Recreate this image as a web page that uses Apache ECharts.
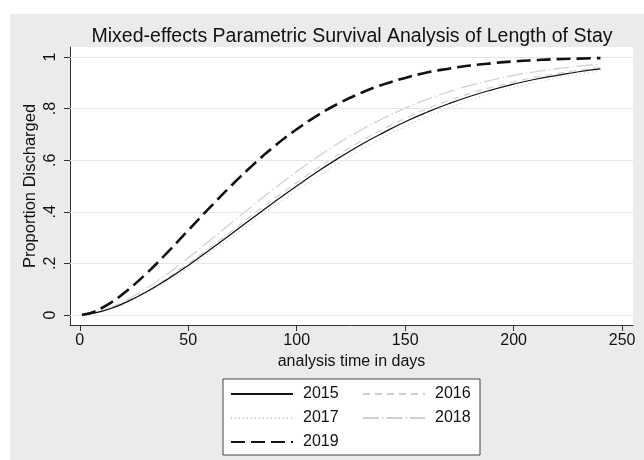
<!DOCTYPE html>
<html>
<head>
<meta charset="utf-8">
<script src="https://cdn.jsdelivr.net/npm/echarts@6/dist/echarts.min.js"></script>
<style>
html,body{margin:0;padding:0;background:#fff;}
#chart{width:644px;height:460px;}
</style>
</head>
<body>
<div id="chart"></div>
<script>
const days = [1, 5, 10, 15, 20, 30, 40, 50, 60, 70, 80, 90, 100, 110, 120, 130, 140, 150, 160, 170, 180, 190, 200, 210, 220, 230, 240];
const y2015 = [0.000, 0.004, 0.014, 0.027, 0.044, 0.086, 0.136, 0.192, 0.253, 0.315, 0.378, 0.440, 0.500, 0.558, 0.612, 0.662, 0.707, 0.749, 0.786, 0.819, 0.848, 0.873, 0.895, 0.914, 0.929, 0.943, 0.954];
const y2016 = [0.000, 0.004, 0.014, 0.028, 0.046, 0.089, 0.141, 0.199, 0.261, 0.325, 0.390, 0.453, 0.514, 0.572, 0.626, 0.676, 0.721, 0.762, 0.799, 0.831, 0.859, 0.883, 0.904, 0.922, 0.936, 0.949, 0.959];
const y2017 = [0.000, 0.004, 0.013, 0.026, 0.042, 0.082, 0.130, 0.184, 0.242, 0.302, 0.363, 0.424, 0.483, 0.539, 0.593, 0.643, 0.689, 0.731, 0.769, 0.803, 0.833, 0.860, 0.883, 0.902, 0.919, 0.934, 0.946];
const y2018 = [0.000, 0.005, 0.016, 0.032, 0.051, 0.100, 0.157, 0.221, 0.289, 0.358, 0.426, 0.493, 0.556, 0.615, 0.670, 0.719, 0.763, 0.802, 0.836, 0.865, 0.890, 0.911, 0.929, 0.943, 0.955, 0.965, 0.973];
const y2019 = [0.001, 0.008, 0.026, 0.051, 0.082, 0.155, 0.239, 0.328, 0.417, 0.503, 0.583, 0.656, 0.720, 0.776, 0.823, 0.862, 0.894, 0.919, 0.940, 0.955, 0.967, 0.976, 0.983, 0.988, 0.992, 0.994, 0.996];
const seriesNames = ['2015', '2016', '2017', '2018', '2019'];
const xTickValues = [0, 50, 100, 150, 200, 250];
const yTickValues = [0, 0.2, 0.4, 0.6, 0.8, 1];
const yTickLabels = ['0', '.2', '.4', '.6', '.8', '1'];

const FONT = '"Liberation Sans", Arial, Helvetica, sans-serif';
const pairs = ys => days.map((d, i) => [d, ys[i]]);
const styles = [
  {color: '#111', width: 1.2, type: 'solid'},
  {color: '#cfcfcf', width: 1.2, type: [7, 5]},
  {color: '#c8c8c8', width: 1.2, type: [1, 3]},
  {color: '#cfcfcf', width: 1.2, type: [16, 3, 1.5, 3]},
  {color: '#111', width: 2.6, type: [14, 6]}
];
const allData = [y2015, y2016, y2017, y2018, y2019];

const series = [{
  name: 'grid',
  type: 'line',
  data: [],
  z: 1,
  silent: true,
  markLine: {
    silent: true,
    symbol: 'none',
    label: {show: false},
    lineStyle: {color: '#e6e6e6', width: 1, type: 'solid'},
    data: yTickValues.map(v => ({yAxis: v}))
  }
}];
seriesNames.forEach((n, i) => {
  series.push({
    name: n,
    type: 'line',
    data: pairs(allData[i]),
    smooth: true,
    showSymbol: false,
    symbol: 'none',
    z: 3 + (i === 0 ? 2 : i === 4 ? 3 : 0),
    lineStyle: styles[i],
    itemStyle: {color: styles[i].color}
  });
});

// left-column legend entries get a wider text box so the second column lines up
const legendData = seriesNames.map((n, i) => ({
  name: n,
  textStyle: {width: i % 2 === 0 ? 53 : 36}
}));

const chart = echarts.init(document.getElementById('chart'), null, {renderer: 'canvas'});
chart.setOption({
  animation: false,
  backgroundColor: '#ffffff',
  graphic: [{
    type: 'rect', left: 10, top: 14, z: -10, silent: true,
    shape: {width: 634, height: 446},
    style: {fill: '#ebebeb'}
  }],
  title: {
    text: 'Mixed-effects Parametric Survival Analysis of Length of Stay',
    left: 347, top: 22, textAlign: 'center',
    textStyle: {fontFamily: FONT, fontSize: 19.5, fontWeight: 'normal', color: '#111'}
  },
  grid: {
    left: 70, right: 11, top: 47, bottom: 135,
    show: true, backgroundColor: '#ffffff', borderWidth: 0
  },
  legend: {
    data: legendData,
    left: 223, top: 379,
    width: 250,
    padding: [6, 9, 4, 7],
    itemWidth: 62, itemHeight: 14, itemGap: 6,
    backgroundColor: '#ffffff',
    borderColor: '#444', borderWidth: 1, borderRadius: 0,
    itemStyle: {color: 'rgba(0,0,0,0)', borderColor: 'rgba(0,0,0,0)', borderWidth: 0, opacity: 0},
    textStyle: {fontFamily: FONT, fontSize: 16, color: '#111', lineHeight: 18, padding: [0, 0, 0, 5]}
  },
  xAxis: {
    type: 'value', min: -4.5, max: 255,
    name: 'analysis time in days', nameLocation: 'middle', nameGap: 29, nameMoveOverlap: false,
    nameTextStyle: {fontFamily: FONT, fontSize: 16, color: '#111'},
    axisLine: {show: true, onZero: false, lineStyle: {color: '#333', width: 1}},
    axisTick: {show: true, length: 6, customValues: xTickValues, lineStyle: {color: '#333'}},
    axisLabel: {customValues: xTickValues, margin: 8, fontFamily: FONT, fontSize: 16, color: '#111'},
    splitLine: {show: false}
  },
  yAxis: {
    type: 'value', min: -0.039, max: 1.039,
    name: 'Proportion Discharged', nameLocation: 'middle', nameGap: 31, nameRotate: 90, nameMoveOverlap: false,
    nameTextStyle: {fontFamily: FONT, fontSize: 16.5, color: '#111'},
    axisLine: {show: true, onZero: false, lineStyle: {color: '#333', width: 1}},
    axisTick: {show: true, length: 6, customValues: yTickValues, lineStyle: {color: '#333'}},
    axisLabel: {
      customValues: yTickValues, rotate: 90, margin: 11,
      fontFamily: FONT, fontSize: 16, color: '#111',
      formatter: v => {
        const i = yTickValues.findIndex(t => Math.abs(t - v) < 1e-9);
        return i >= 0 ? yTickLabels[i] : '';
      }
    },
    splitLine: {show: false}
  },
  series: series
});
</script>
</body>
</html>
